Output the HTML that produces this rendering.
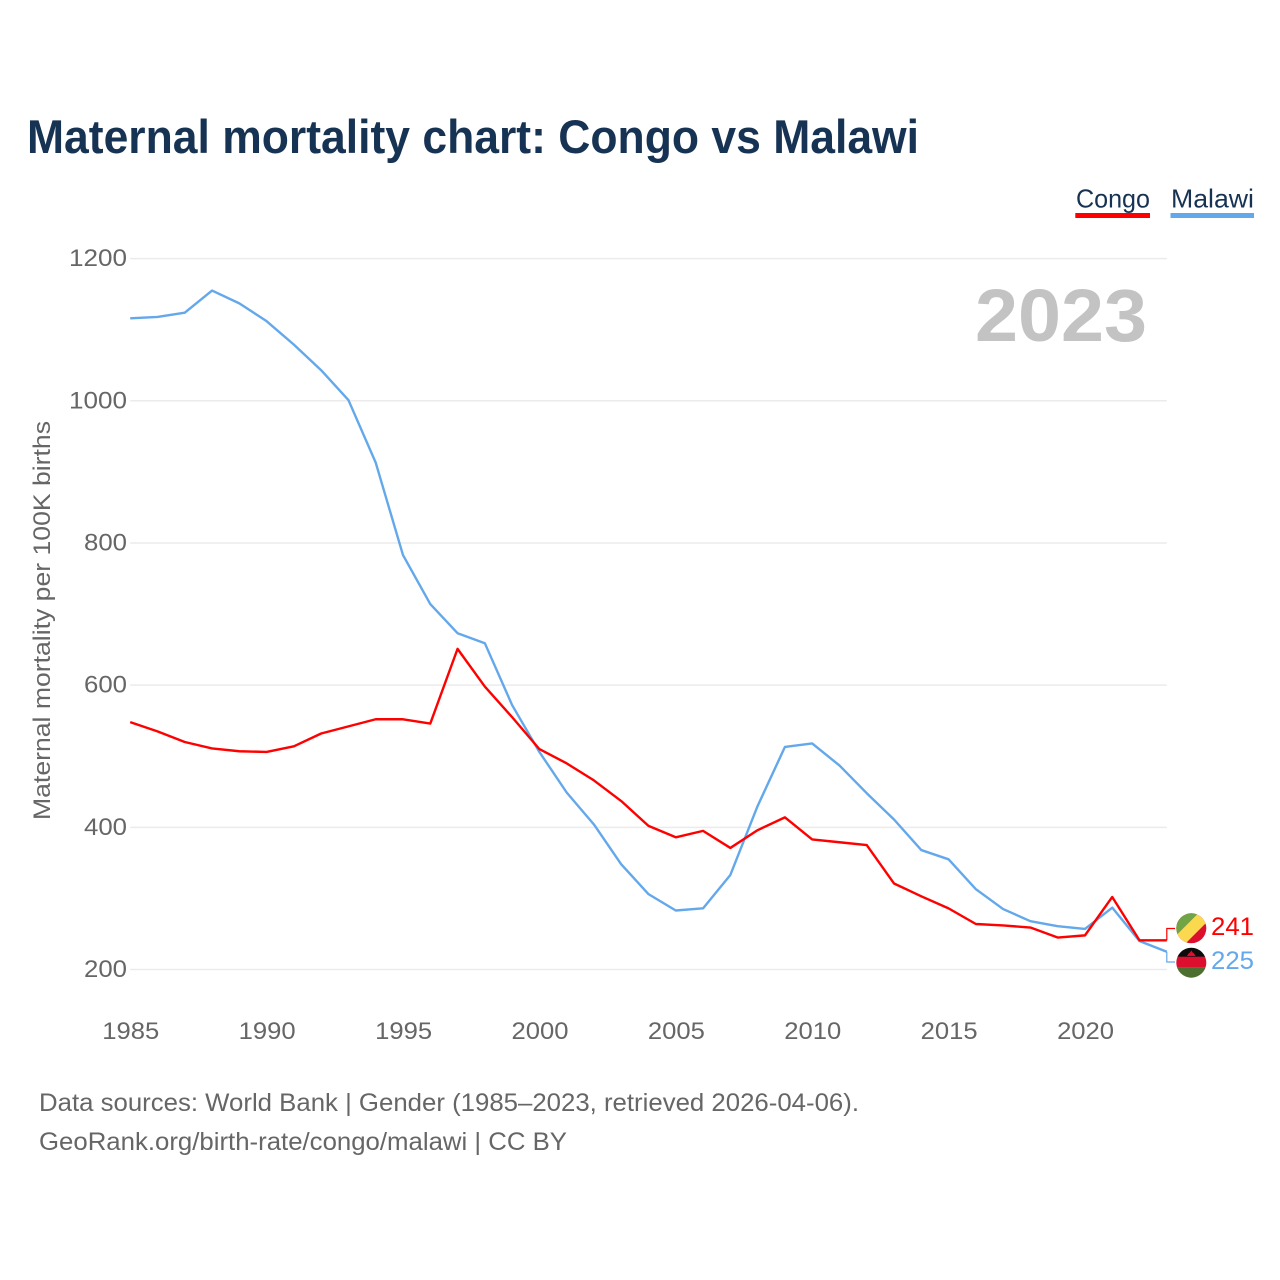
<!DOCTYPE html>
<html lang="en">
<head>
<meta charset="utf-8">
<title>Maternal mortality chart: Congo vs Malawi</title>
<style>
html,body{margin:0;padding:0;background:#fff;width:1280px;height:1280px;overflow:hidden}
svg{display:block}
text{font-family:"Liberation Sans",sans-serif}
</style>
</head>
<body>
<svg id="chart" xmlns="http://www.w3.org/2000/svg" width="1280" height="1280" viewBox="0 0 1280 1280">
  <rect width="1280" height="1280" fill="#fff"/>
  <text x="27" y="153" font-size="47" font-weight="700" fill="#173354" textLength="892" lengthAdjust="spacingAndGlyphs">Maternal mortality chart: Congo vs Malawi</text>
  <g>
    <g>
      <text x="1076" y="207.500" font-size="26" fill="#173354" textLength="74" lengthAdjust="spacingAndGlyphs">Congo</text>
      <rect x="1075.300" y="213" width="74.700" height="5" fill="#ff0000"/>
    </g>
    <g>
      <text x="1171" y="207.500" font-size="26" fill="#173354" textLength="83" lengthAdjust="spacingAndGlyphs">Malawi</text>
      <rect x="1170.500" y="213" width="83.500" height="5" fill="#64a8ec"/>
    </g>
  </g>
  <g id="grid"></g>
  <g id="yTicks"></g>
  <g id="xTicks"></g>
  <text transform="translate(50,820) rotate(-90)" font-size="24.500" fill="#666" textLength="399" lengthAdjust="spacingAndGlyphs">Maternal mortality per 100K births</text>
  <text id="yearLabel" x="1147" y="341" text-anchor="end" font-size="74" font-weight="700" fill="#c3c3c3" textLength="172" lengthAdjust="spacingAndGlyphs">2023</text>
  <g id="series"></g>
  <g id="ends"></g>
  <defs>
    <clipPath id="clipCongo"><circle cx="1191.300" cy="928.300" r="15"/></clipPath>
    <clipPath id="clipMalawi"><circle cx="1191.300" cy="962.700" r="15"/></clipPath>
  </defs>
  <g clip-path="url(#clipCongo)">
    <rect x="1176" y="913" width="31" height="31" fill="#dc0f2e"/>
    <polygon points="1176,913 1198.500,913 1176,935.500" fill="#6fa544"/>
    <polygon points="1198.500,913 1207,913 1207,922 1185,944 1176,944 1176,935.500" fill="#fbd94e"/>
  </g>
  <g clip-path="url(#clipMalawi)">
    <rect x="1176" y="947" width="31" height="10" fill="#0c0c0c"/>
    <rect x="1176" y="956.700" width="31" height="10.700" fill="#dc0f2e"/>
    <rect x="1176" y="967.400" width="31" height="11" fill="#4c6f30"/>
    <path d="M1187 956l1.500-2.500 1.500-1 1.300-2 1.300 2 1.500 1 1.500 2.500z" fill="#dc0f2e"/>
  </g>
  <text x="39" y="1111" font-size="25" fill="#666" textLength="820" lengthAdjust="spacingAndGlyphs">Data sources: World Bank | Gender (1985–2023, retrieved 2026-04-06).</text>
  <text x="39" y="1150" font-size="25" fill="#666" textLength="528" lengthAdjust="spacingAndGlyphs">GeoRank.org/birth-rate/congo/malawi | CC BY</text>
</svg>
<script>
const years = [1985,1986,1987,1988,1989,1990,1991,1992,1993,1994,1995,1996,1997,1998,1999,2000,2001,2002,2003,2004,2005,2006,2007,2008,2009,2010,2011,2012,2013,2014,2015,2016,2017,2018,2019,2020,2021,2022,2023];
const congo = [548,535,520,511,507,506,514,532,542,552,552,546,651,598,555,510,490,466,437,402,386,395,371,396,414,383,379,375,321,303,286,264,262,259,245,248,302,241,241];
const malawi = [1116,1118,1124,1155,1137,1112,1079,1043,1001,913,783,714,673,659,572,506,449,404,348,306,283,286,333,430,513,518,487,448,411,368,355,313,285,268,261,257,287,240,225];
const yTickValues = [200,400,600,800,1000,1200];
const xTickValues = [1985,1990,1995,2000,2005,2010,2015,2020];

const NS = 'http://www.w3.org/2000/svg';
const xScale = function (year) { return 130.2 + (year - 1985) * (1166.8 - 130.2) / (2023 - 1985); };
const yScale = function (value) { return 969.5 - (value - 200) * (969.5 - 258.6) / 1000; };
function make(tag, attrs, parent, content) {
  const el = document.createElementNS(NS, tag);
  Object.keys(attrs).forEach(function (k) { el.setAttribute(k, attrs[k]); });
  if (content !== undefined) el.textContent = content;
  parent.appendChild(el);
  return el;
}
const grid = document.getElementById('grid');
const yTicks = document.getElementById('yTicks');
const xTicks = document.getElementById('xTicks');
const seriesGroup = document.getElementById('series');
const ends = document.getElementById('ends');

yTickValues.forEach(function (v) {
  const line = make('line', {x1: 130.2, x2: 1166.8, y1: yScale(v), y2: yScale(v), stroke: '#ebebeb', 'stroke-width': 1.5}, grid);
  
  
  const width = String(v).length === 4 ? 58 : 43;
  const label = make('text', {x: 127, y: yScale(v) + 7.5, 'text-anchor': 'end', 'font-size': 24.5, fill: '#666', textLength: width, lengthAdjust: 'spacingAndGlyphs'}, yTicks, String(v));
  
  
});
xTickValues.forEach(function (y) {
  const label = make('text', {x: xScale(y) + 0.6, y: 1039, 'text-anchor': 'middle', 'font-size': 24.5, fill: '#666', textLength: 57, lengthAdjust: 'spacingAndGlyphs'}, xTicks, String(y));
  
  
});
function linePoints(values) {
  return values.map(function (v, i) { return xScale(years[i]).toFixed(2) + ',' + yScale(v).toFixed(2); }).join(' ');
}
const malawiLine = make('polyline', {points: linePoints(malawi), fill: 'none', stroke: '#64a8ec', 'stroke-width': 2.4, 'stroke-linejoin': 'round'}, seriesGroup);


const congoLine = make('polyline', {points: linePoints(congo), fill: 'none', stroke: '#ff0000', 'stroke-width': 2.4, 'stroke-linejoin': 'round'}, seriesGroup);



const endX = xScale(years[years.length - 1]);
const congoEnd = congo[congo.length - 1];
const malawiEnd = malawi[malawi.length - 1];
const congoConnector = make('polyline', {points: endX + ',' + yScale(congoEnd) + ' ' + endX + ',928.5 1175,928.5', fill: 'none', stroke: '#ff0000', 'stroke-width': 1.2}, ends);


const malawiConnector = make('polyline', {points: endX + ',' + yScale(malawiEnd) + ' ' + endX + ',962 1175,962', fill: 'none', stroke: '#64a8ec', 'stroke-width': 1.2}, ends);


const congoValue = make('text', {x: 1211, y: 935, 'font-size': 25, fill: '#ff0000', textLength: 43, lengthAdjust: 'spacingAndGlyphs'}, ends, String(congoEnd));


const malawiValue = make('text', {x: 1211, y: 969, 'font-size': 25, fill: '#64a8ec', textLength: 43, lengthAdjust: 'spacingAndGlyphs'}, ends, String(malawiEnd));


</script>
</body>
</html>
